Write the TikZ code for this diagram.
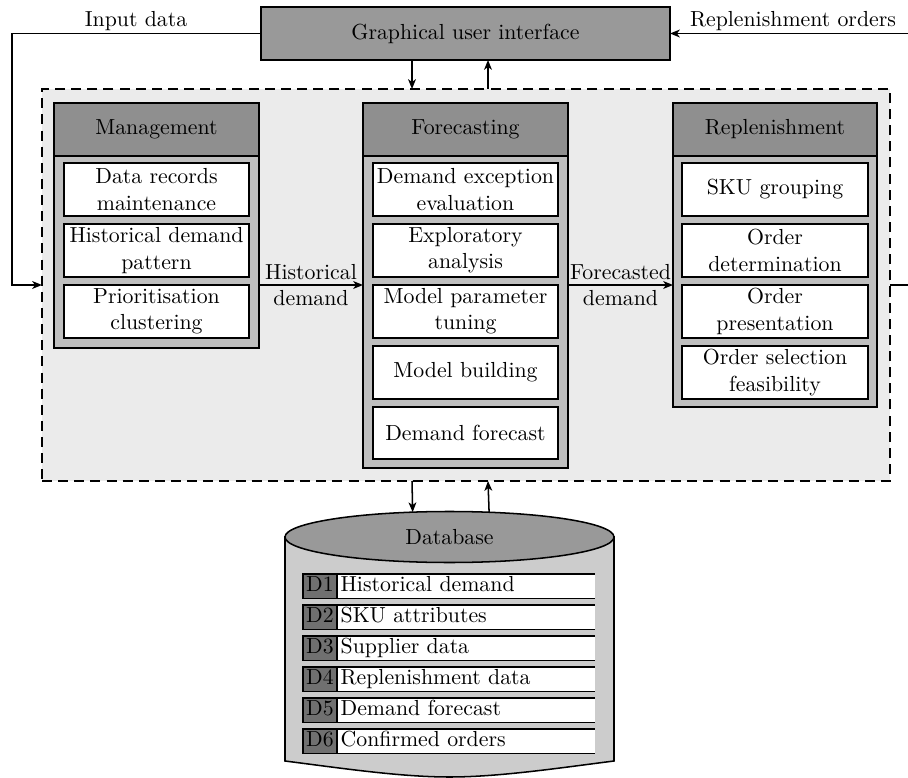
\documentclass[tikz,border=0pt]{standalone}
\usetikzlibrary{arrows.meta,shapes.geometric,calc}
\definecolor{guigray}{gray}{0.6}
\definecolor{headgray}{gray}{0.56}
\definecolor{bodygray}{gray}{0.75}
\definecolor{bggray}{gray}{0.92}
\definecolor{cylgray}{gray}{0.8}
\definecolor{dgray}{gray}{0.44}
\newcommand\pxu{0.4587pt}
\newcommand\mkbox[7]{\node[#6, minimum width={(#4-#2)*\pxu}, minimum height={(#5-#3)*\pxu}] (#1) at ({(#2+#4)/2},{(#3+#5)/2}) {#7};}
\begin{document}
\begin{tikzpicture}[x=\pxu, y=-\pxu, line width=0.7pt,
  base/.style={draw, inner sep=0pt, outer sep=0pt, align=center},
  guibox/.style={base, fill=guigray},
  modbody/.style={base, fill=bodygray},
  modhead/.style={base, fill=headgray},
  task/.style={base, fill=white},
  sysbox/.style={draw, fill=bggray, inner sep=0pt, outer sep=0pt, dash pattern=on 4.6pt off 2.8pt, line width=0.8pt},
  arr/.style={-{Stealth[length=4.5pt,width=3.6pt,inset=1.3pt]}, line width=0.7pt},
  lbl/.style={align=center, inner sep=0pt},
  dkey/.style={base, fill=dgray, text height=7pt, text depth=2pt},
  dtext/.style={fill=white, inner ysep=0pt, inner xsep=1.5pt, outer sep=0pt, text width=115pt, align=left, text height=7pt, text depth=2pt},
]
\useasboundingbox (0,0) rectangle (908,778);

% system frame
\mkbox{sys}{42}{89}{890}{481}{sysbox}{}

% GUI
\mkbox{gui}{261}{7}{670}{60}{guibox}{Graphical user interface}

% Management
\mkbox{mg}{54}{103}{259}{348}{modbody}{}
\mkbox{mgh}{54}{103}{259}{156}{modhead}{Management}
\mkbox{mg1}{64}{163}{249}{216}{task}{Data records\\maintenance}
\mkbox{mg2}{64}{224}{249}{277}{task}{Historical demand\\pattern}
\mkbox{mg3}{64}{285}{249}{338}{task}{Prioritisation\\clustering}

% Forecasting
\mkbox{fc}{363}{103}{568}{468}{modbody}{}
\mkbox{fch}{363}{103}{568}{156}{modhead}{Forecasting}
\mkbox{fc1}{373}{163}{558}{216}{task}{Demand exception\\evaluation}
\mkbox{fc2}{373}{224}{558}{277}{task}{Exploratory\\analysis}
\mkbox{fc3}{373}{285}{558}{338}{task}{Model parameter\\tuning}
\mkbox{fc4}{373}{346}{558}{399}{task}{Model building}
\mkbox{fc5}{373}{407}{558}{459}{task}{Demand forecast}

% Replenishment
\mkbox{rp}{673}{103}{877}{407}{modbody}{}
\mkbox{rph}{673}{103}{877}{156}{modhead}{Replenishment}
\mkbox{rp1}{682}{163}{868}{216}{task}{SKU grouping}
\mkbox{rp2}{682}{224}{868}{277}{task}{Order\\determination}
\mkbox{rp3}{682}{285}{868}{338}{task}{Order\\presentation}
\mkbox{rp4}{682}{346}{868}{399}{task}{Order selection\\feasibility}

% coordinates
\coordinate (inL) at (12,33);
\coordinate (inR) at (908,33);
\coordinate (c412) at (412,0);
\coordinate (c488) at (488,0);

% external flows
\draw[arr] (gui.west) -- (gui.west -| inL) |- (sys.west);
\node[lbl] (inlbl) at (136,21) {Input data};
\draw[arr] (inR |- gui.west) -- (gui.east);
\node[lbl] (rolbl) at (793,21) {Replenishment orders};
\draw (sys.east) -- (sys.east -| inR);

% GUI <-> system
\draw[arr] (gui.south -| c412) -- (sys.north -| c412);
\draw[arr] (sys.north -| c488) -- (gui.south -| c488);

% module flows
\draw[arr] (mg.east |- sys.center) -- (fc.west |- sys.center)
  node[midway, lbl] (hdlbl) {Historical\\demand};
\draw[arr] (fc.east |- sys.center) -- (rp.west |- sys.center)
  node[midway, lbl] (fdlbl) {Forecasted\\demand};

% database cylinder
\path[draw, fill=cylgray] (285,537) -- (285,761)
  .. controls (340,768) and (400,777) .. (449.5,777)
  .. controls (499,777) and (559,768) .. (614,761) -- (614,537) -- cycle;
\node[ellipse, draw, fill=guigray, inner sep=0pt, outer sep=0pt,
  minimum width={329*\pxu}, minimum height={51*\pxu}] (db) at (449.5,537) {Database};

\draw[arr] (sys.south -| c412) -- (db.146.5);
\draw[arr] (db.32.8) -- (sys.south -| c488);

% data stores
\foreach \i/\t in {1/Historical demand, 2/SKU attributes, 3/Supplier data, 4/Replenishment data, 5/Demand forecast, 6/Confirmed orders} {
  \pgfmathsetmacro\rt{574+31*(\i-1)}
  \pgfmathsetmacro\rb{\rt+24.5}
  \mkbox{dt\i}{337}{\rt}{595}{\rb}{dtext}{\t}
  \draw (dt\i.north west) -- (dt\i.north east) (dt\i.south west) -- (dt\i.south east);
  \mkbox{dk\i}{303}{\rt}{337}{\rb}{dkey}{D\i}
}
\end{tikzpicture}
\end{document}
